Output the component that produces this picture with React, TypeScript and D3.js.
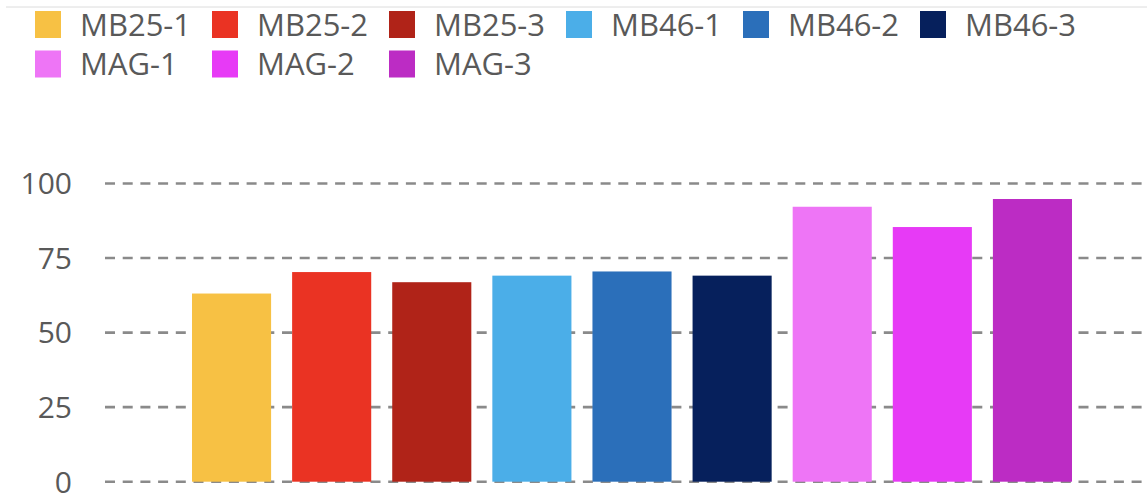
import React from "react";
import * as d3 from "d3";

const categories = ["MB25-1", "MB25-2", "MB25-3", "MB46-1", "MB46-2", "MB46-3", "MAG-1", "MAG-2", "MAG-3"];
const values = [63.1, 70.3, 66.9, 69.1, 70.5, 69.1, 92.2, 85.4, 94.8];
const colors = ["#F7C144", "#EA3323", "#B02318", "#4BAEE8", "#2B6FBA", "#06205C", "#EE75F6", "#E73AF6", "#BC2CC4"];
const yTicks = [0, 25, 50, 75, 100];

const W = 1147;
const H = 498;
const FONT = "'Open Sans', 'Liberation Sans', sans-serif";
const TEXT = "#595959";

export default function App() {
  const x = d3.scaleBand<string>().domain(categories).range([181.5, 1082.5]).paddingInner(0.21).paddingOuter(0.105);
  const y = d3.scaleLinear().domain([0, 100]).range([481.7, 183.5]);

  // legend: six entries per row
  const perRow = 6;
  const colW = 177;

  return (
    <svg width={W} height={H} style={{ position: "absolute", left: 0, top: 0, background: "#fff" }} fontFamily={FONT}>
      <line x1={6} x2={W} y1={7} y2={7} stroke="#dcdcdc" strokeWidth={1} />
      {categories.map((c, i) => {
        const col = i % perRow;
        const row = Math.floor(i / perRow);
        const lx = 35 + col * colW;
        const ly = 11 + row * 39.5;
        return (
          <g key={c}>
            <rect x={lx} y={ly} width={26} height={27} fill={colors[i]} />
            <text x={lx + 45} y={ly + 13.5} dy="0.36em" fontSize={31} fill={TEXT}>
              {c}
            </text>
          </g>
        );
      })}
      {yTicks.map((t) => (
        <g key={t}>
          <line x1={105} x2={W} y1={y(t)} y2={y(t)} stroke="#8a8a8a" strokeWidth={2.6} strokeDasharray="10,7.7" />
          <text x={72} y={y(t)} dy="0.36em" textAnchor="end" fontSize={30} fill={TEXT}>
            {t}
          </text>
        </g>
      ))}
      {categories.map((c, i) => (
        <rect
          key={c}
          x={x(c)}
          y={y(values[i])}
          width={x.bandwidth()}
          height={y(0) - y(values[i])}
          fill={colors[i]}
        />
      ))}
    </svg>
  );
}
